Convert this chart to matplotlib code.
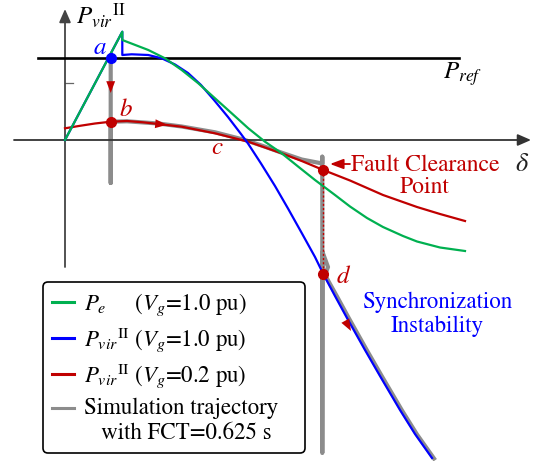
import matplotlib
matplotlib.use("Agg")
import numpy as np
import matplotlib.pyplot as plt
from matplotlib.lines import Line2D
from matplotlib.legend_handler import HandlerLine2D

plt.rcParams['font.family'] = ['STIXGeneral', 'DejaVu Serif']
plt.rcParams['mathtext.fontset'] = 'stix'

# ---------------- data (delta, P) ----------------
P_REF = 0.82

pe_delta = [0.0, 0.573, 0.573, 0.833, 1.00, 1.167, 1.333, 1.50, 1.667, 1.833, 2.00,
            2.167, 2.333, 2.50, 2.70, 2.85, 3.02, 3.18, 3.38, 3.52, 3.75, 4.00]
pe_p = [0.0, 1.083, 1.00, 0.90, 0.817, 0.70, 0.567, 0.417, 0.267, 0.117, -0.017,
        -0.133, -0.267, -0.40, -0.55, -0.665, -0.78, -0.87, -0.96, -1.015, -1.075, -1.11]

pv1_delta = [0.0, 0.573, 0.573, 0.667, 0.833, 0.967, 1.10, 1.23, 1.36, 1.49, 1.63,
             1.76, 1.83, 1.96, 2.10, 2.23, 2.37, 2.50, 2.583, 2.70, 2.82, 3.00, 3.15,
             3.35, 3.50, 3.67]
pv1_p = [0.0, 1.083, 0.85, 0.857, 0.85, 0.817, 0.755, 0.67, 0.55, 0.40, 0.23,
         0.06, -0.035, -0.235, -0.46, -0.685, -0.935, -1.17, -1.34, -1.56, -1.78,
         -2.10, -2.36, -2.70, -2.94, -3.18]

pv02_delta = [0.0, 0.15, 0.30, 0.457, 0.62, 0.78, 0.933, 1.167, 1.50, 1.833, 2.167,
              2.367, 2.583, 2.85, 3.18, 3.35, 3.52, 3.75, 4.00]
pv02_p = [0.117, 0.142, 0.165, 0.183, 0.19, 0.177, 0.16, 0.133, 0.067, -0.017, -0.133,
          -0.21, -0.30, -0.405, -0.55, -0.61, -0.67, -0.74, -0.81]

sim_delta = [0.457, 0.457, 0.457, 0.62, 0.933, 1.167, 1.50, 1.80, 2.00, 2.167, 2.367,
             2.573, 2.573, 2.573, 2.575, 2.63, 2.60, 2.72, 2.84, 3.02, 3.17, 3.37,
             3.52, 3.69]
sim_p = [0.817, -0.43, 0.183, 0.187, 0.165, 0.135, 0.077, 0.00, -0.067, -0.127, -0.195,
         -0.235, -0.167, -3.13, -1.12, -1.27, -1.35, -1.565, -1.785, -2.105, -2.365,
         -2.705, -2.945, -3.185]

# key operating points
pt_a = (0.457, 0.817)
pt_b = (0.457, 0.183)
pt_fcp = (2.583, -0.30)
pt_d = (2.583, -1.34)

GREEN = '#00B050'
BLUE = '#0000FF'
RED = '#C00000'
GRAY = '#8C8C8C'


class UpHandler(HandlerLine2D):
    """Line handle aligned with the first line of a two-line label."""
    def create_artists(self, legend, orig_handle, xdescent, ydescent, width,
                       height, fontsize, trans):
        arts = super().create_artists(legend, orig_handle, xdescent, ydescent,
                                      width, height, fontsize, trans)
        for a in arts:
            if isinstance(a, Line2D):
                a.set_ydata(np.asarray(a.get_ydata()) + 0.55 * fontsize)
        return arts


fig = plt.figure(figsize=(5.38, 4.61), dpi=100)
ax = fig.add_axes([0, 0, 1, 1])
ax.set_xlim(-0.65, 4.73)
ax.set_ylim(-3.21, 1.40)
ax.axis('off')

# axes with arrows
arr = dict(arrowstyle='-|>,head_length=0.8,head_width=0.35', lw=1.3,
           color='#333333', shrinkA=0, shrinkB=0, mutation_scale=10)
ax.annotate('', xy=(4.66, 0), xytext=(-0.51, 0), arrowprops=arr)
ax.annotate('', xy=(0, 1.31), xytext=(0, -1.27), arrowprops=dict(arr, color='#444444'))
ax.plot([0, 0.08], [0.57, 0.57], color='#666666', lw=0.9)

# P_ref line
ax.plot([-0.27, 3.94], [P_REF, P_REF], color='black', lw=1.9, zorder=3)

# curves
l_sim, = ax.plot(sim_delta, sim_p, color=GRAY, lw=3.0, zorder=2,
                 label='Simulation trajectory\n   with FCT=0.625 s')
l_red, = ax.plot(pv02_delta, pv02_p, color=RED, lw=1.6, zorder=3,
                 label=r'$P_{vir}{}^{\mathrm{II}}$ ($V_g$=0.2 pu)')
l_blue, = ax.plot(pv1_delta, pv1_p, color=BLUE, lw=1.6, zorder=4,
                  label=r'$P_{vir}{}^{\mathrm{II}}$ ($V_g$=1.0 pu)')
l_green, = ax.plot(pe_delta, pe_p, color=GREEN, lw=1.6, zorder=5,
                   label=r'$P_e$     ($V_g$=1.0 pu)')

# dotted jump line
ax.plot([pt_fcp[0], pt_d[0]], [pt_fcp[1], pt_d[1]], color=RED, lw=1.0,
        ls=(0, (1.5, 1.5)), zorder=6)

# points
ax.plot(*pt_a, 'o', color=BLUE, ms=7, zorder=7)
for p in (pt_b, pt_fcp, pt_d):
    ax.plot(*p, 'o', color=RED, ms=7, zorder=7)

# direction arrows (heads only)
head = dict(arrowstyle='-|>,head_length=0.85,head_width=0.32', color=RED, lw=0,
            shrinkA=0, shrinkB=0, mutation_scale=10)
ax.annotate('', xy=(0.457, 0.47), xytext=(0.457, 0.60), arrowprops=head, zorder=7)
ax.annotate('', xy=(1.02, 0.152), xytext=(0.90, 0.163), arrowprops=head, zorder=7)
ax.annotate('', xy=(2.86, -1.91), xytext=(2.78, -1.766), arrowprops=head, zorder=7)

# fault clearance annotation arrow
ax.annotate('', xy=(2.65, -0.24), xytext=(2.85, -0.24),
            arrowprops=dict(arrowstyle='-|>,head_length=0.8,head_width=0.3', color=RED,
                            lw=1.3, shrinkA=0, shrinkB=0, mutation_scale=10))

# texts
fs = 16.5
ax.text(3.60, -0.31, 'Fault Clearance', color=RED, fontsize=17, ha='center', va='baseline')
ax.text(3.60, -0.53, 'Point', color=RED, fontsize=17, ha='center', va='baseline')
ax.text(3.72, -1.68, 'Synchronization', color=BLUE, fontsize=16.5, ha='center', va='baseline')
ax.text(3.72, -1.917, 'Instability', color=BLUE, fontsize=16.5, ha='center', va='baseline')

ax.text(0.35, 0.92, 'a', color=BLUE, fontsize=18, style='italic', ha='center', va='center')
ax.text(0.61, 0.30, 'b', color=RED, fontsize=18, style='italic', ha='center', va='center')
ax.text(1.52, -0.08, 'c', color=RED, fontsize=18, style='italic', ha='center', va='center')
ax.text(2.78, -1.37, 'd', color=RED, fontsize=18, style='italic', ha='center', va='center')

ax.text(3.78, 0.61, r'$P_{ref}$', fontsize=18, ha='left', va='baseline')
ax.text(4.567, -0.25, r'$\delta$', fontsize=19, ha='center', va='center', color='#222222')
ax.text(0.11, 1.15, r'$P_{vir}{}^{\mathrm{II}}$', fontsize=18, ha='left', va='baseline')

# legend
leg = ax.legend(handles=[l_green, l_blue, l_red, l_sim], loc='upper left',
                bbox_to_anchor=(43 / 538, 0.0, 262 / 538, 1 - 282 / 461),
                mode='expand', borderaxespad=0,
                fontsize=fs, frameon=True, fancybox=True, edgecolor='black',
                framealpha=1, handlelength=0.95, handletextpad=0.45,
                labelspacing=0.33, borderpad=0.4,
                handler_map={l_sim: UpHandler()})
leg.get_frame().set_linewidth(1.2)
for h in leg.legend_handles:
    h.set_linewidth(2.2)

fig.savefig('out.png', dpi=100)
